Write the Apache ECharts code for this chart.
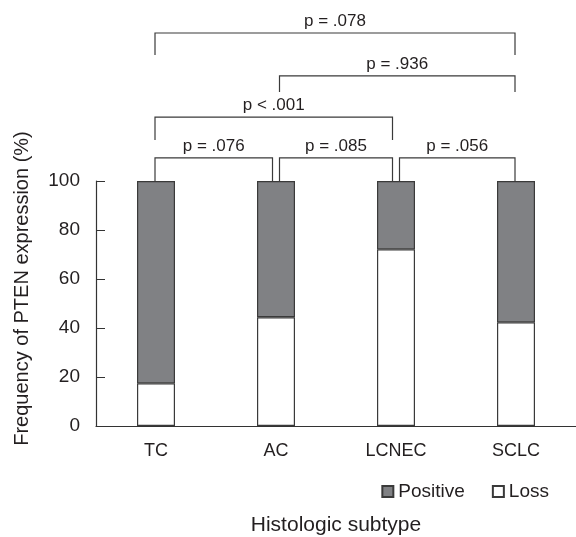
<!DOCTYPE html>
<html>
<head>
<meta charset="utf-8">
<script src="https://cdn.jsdelivr.net/npm/echarts@6/dist/echarts.min.js"></script>
<style>
  html, body { margin: 0; padding: 0; background: #fff; }
  #chart { width: 576px; height: 537px; }
</style>
</head>
<body>
<div id="chart"></div>
<script>
// histologic subtypes
var categories = ['TC', 'AC', 'LCNEC', 'SCLC'];
// % loss / positive PTEN expression
var lossValues = [17.4, 44.4, 72.1, 42.3];
var positiveValues = [82.6, 55.6, 27.9, 57.7];
var yTicks = [0, 20, 40, 60, 80, 100];

// comparison brackets: from / to category, bar level (y units), end of the legs, label
var pLabels = ['p = .076', 'p = .085', 'p = .056', 'p < .001', 'p = .936', 'p = .078'];
var pFrom = [0, 1, 2, 0, 1, 0];
var pTo = [1, 2, 3, 2, 3, 3];
var pLevel = [109.4, 109.4, 109.4, 126.1, 142.9, 160.4];
var pEnd = [100, 100, 100, 116.7, 136.3, 151.4];

var textColor = '#231f20';
var lineColor = '#333';
var fontFamily = '"Liberation Sans", Arial, sans-serif';

var bracketData = pLabels.map(function (t, i) {
  return [pFrom[i], pTo[i], pLevel[i], pEnd[i], i];
});

var chart = echarts.init(document.getElementById('chart'));

chart.setOption({
  animation: false,
  textStyle: { fontFamily: fontFamily, color: textColor },
  grid: { left: 96, right: 0, top: 181, bottom: 111 },
  legend: {
    data: ['Positive', 'Loss'],
    right: 22,
    top: 477,
    icon: 'rect',
    itemWidth: 11,
    itemHeight: 11,
    itemGap: 27,
    textStyle: { fontSize: 19, color: textColor, fontFamily: fontFamily }
  },
  xAxis: {
    type: 'category',
    data: categories,
    name: 'Histologic subtype',
    nameLocation: 'middle',
    nameGap: 89,
    nameTextStyle: { fontSize: 21, color: textColor },
    axisLine: { lineStyle: { color: lineColor, width: 1.2 } },
    axisTick: { inside: true, length: 9, interval: 0, lineStyle: { color: lineColor } },
    axisLabel: { fontSize: 18, color: textColor, margin: 16 }
  },
  yAxis: {
    type: 'value',
    min: yTicks[0],
    max: yTicks[yTicks.length - 1],
    interval: 20,
    name: 'Frequency of PTEN expression (%)',
    nameLocation: 'middle',
    nameGap: 64,
    nameTextStyle: { fontSize: 20, color: textColor, padding: [0, 0, 0, 30] },
    axisLine: { show: true, lineStyle: { color: lineColor, width: 1.2 } },
    axisTick: { show: true, inside: true, length: 9, lineStyle: { color: lineColor } },
    axisLabel: { fontSize: 19, color: textColor, margin: 16 },
    splitLine: { show: false }
  },
  series: [
    {
      name: 'Loss',
      type: 'bar',
      stack: 'pten',
      barWidth: 38,
      data: lossValues,
      itemStyle: { color: '#ffffff', borderColor: '#3a3a3a', borderWidth: 1.2 }
    },
    {
      name: 'Positive',
      type: 'bar',
      stack: 'pten',
      barWidth: 38,
      data: positiveValues,
      itemStyle: { color: '#808184', borderColor: '#3a3a3a', borderWidth: 1.2 }
    },
    {
      name: 'brackets',
      type: 'custom',
      clip: false,
      silent: true,
      encode: { x: 0, y: 2 },
      data: bracketData,
      renderItem: function (params, api) {
        var from = api.value(0), to = api.value(1);
        var top = api.coord([from, api.value(2)]);
        var topR = api.coord([to, api.value(2)]);
        var endY = api.coord([from, api.value(3)])[1];
        // legs shifted a little where two brackets meet on the same bar
        var x1 = top[0] + (from > 0 ? 3.5 : -1);
        var x2 = topR[0] - (to < categories.length - 1 ? 3.5 : 1);
        var y = top[1];
        return {
          type: 'group',
          children: [
            {
              type: 'polyline',
              shape: { points: [[x1, endY], [x1, y], [x2, y], [x2, endY]] },
              style: { stroke: '#3a3a3a', lineWidth: 1.2, fill: null }
            },
            {
              type: 'text',
              x: (x1 + x2) / 2,
              y: y - 3,
              style: {
                text: pLabels[api.value(4)],
                align: 'center',
                verticalAlign: 'bottom',
                font: '17px ' + fontFamily,
                fill: textColor
              }
            }
          ]
        };
      }
    }
  ]
});
</script>
</body>
</html>
